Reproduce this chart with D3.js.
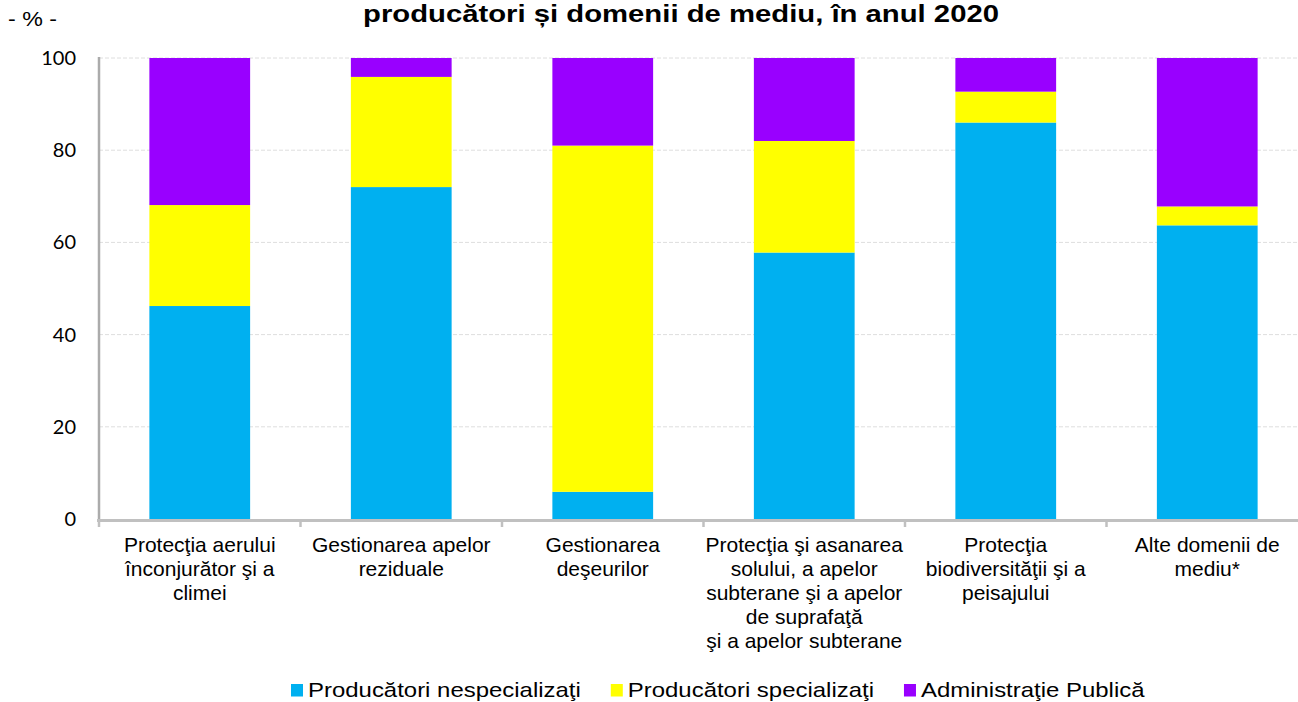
<!DOCTYPE html>
<html><head><meta charset="utf-8">
<script src="https://cdn.jsdelivr.net/npm/d3@7"></script>
<style>
html,body{margin:0;padding:0;background:#fff;}
svg{display:block;}
</style></head>
<body>
<svg id="chart" width="1298" height="702"></svg>
<script>
const categories = [
  ["Protecţia aerului", "înconjurător şi a", "climei"],
  ["Gestionarea apelor", "reziduale"],
  ["Gestionarea", "deşeurilor"],
  ["Protecţia şi asanarea", "solului, a apelor", "subterane şi a apelor", "de suprafaţă", "şi a apelor subterane"],
  ["Protecţia", "biodiversităţii şi a", "peisajului"],
  ["Alte domenii de", "mediu*"]
];
const seriesNames = ["Producători nespecializaţi", "Producători specializaţi", "Administraţie Publică"];
const nespecializati = [46.2, 72.0, 5.9, 57.8, 86.0, 63.7];
const specializati   = [21.9, 23.9, 75.1, 24.2, 6.7, 4.1];
const administratie  = [31.9, 4.1, 19.0, 18.0, 7.3, 32.2];
const yTicks = [0, 20, 40, 60, 80, 100];
const titleText = "producători și domenii de mediu, în anul 2020";
const unitText = "- % -";
const colors = ["#00B0F0", "#FFFF00", "#9900FF"];

(function () {
const svg = d3.select("#chart");
const pLeft = 99, pRight = 1308, pTop = 58, pBottom = 519;

const x = d3.scaleBand().domain(d3.range(categories.length)).range([pLeft, pRight])
  .paddingInner(0.5).paddingOuter(0.25);
const y = d3.scaleLinear().domain([0, 100]).range([pBottom, pTop]);

// gridlines
svg.append("g").selectAll("line").data(yTicks.filter(d => d > 0)).join("line")
  .attr("x1", pLeft).attr("x2", 1298)
  .attr("y1", d => y(d)).attr("y2", d => y(d))
  .attr("stroke", "#dedede").attr("stroke-width", 1).attr("stroke-dasharray", "4,2");

// stacked data
const rows = categories.map((c, i) => ({i, a: nespecializati[i], b: specializati[i], c: administratie[i]}));
const stacked = d3.stack().keys(["a", "b", "c"])(rows);

svg.append("g").selectAll("g").data(stacked).join("g")
  .attr("fill", (d, k) => colors[k])
  .selectAll("rect").data(d => d).join("rect")
  .attr("x", d => x(d.data.i))
  .attr("width", x.bandwidth())
  .attr("y", d => y(d[1]))
  .attr("height", d => y(d[0]) - y(d[1]));

// y axis line
svg.append("line").attr("x1", pLeft).attr("x2", pLeft).attr("y1", pTop - 1).attr("y2", pBottom + 3)
  .attr("stroke", "#ababab").attr("stroke-width", 2.5);

// x axis line
svg.append("line").attr("x1", pLeft - 2).attr("x2", 1298).attr("y1", pBottom + 1.5).attr("y2", pBottom + 1.5)
  .attr("stroke", "#c0c0c0").attr("stroke-width", 3);

// x tick marks at band boundaries
const bounds = d3.range(categories.length + 1).map(i => pLeft + i * x.step());
svg.append("g").selectAll("line").data(bounds).join("line")
  .attr("x1", d => d).attr("x2", d => d)
  .attr("y1", pBottom + 1).attr("y2", pBottom + 8)
  .attr("stroke", "#c0c0c0").attr("stroke-width", 2.5);

// y tick labels
svg.append("g").selectAll("text").data(yTicks).join("text")
  .attr("x", 76).attr("y", d => y(d))
  .attr("dy", "0.35em")
  .attr("text-anchor", "end")
  .attr("font-family", "Lato, 'Open Sans', sans-serif")
  .attr("font-size", 20)
  .attr("fill", "#000")
  .text(d => d);

// x category labels
const xl = svg.append("g").selectAll("text").data(categories).join("text")
  .attr("text-anchor", "middle")
  .attr("font-family", "'Liberation Sans', Arial, sans-serif")
  .attr("font-size", 21)
  .attr("fill", "#000");
xl.selectAll("tspan").data((d, i) => d.map(line => ({line, i}))).join("tspan")
  .attr("x", d => x(d.i) + x.bandwidth() / 2)
  .attr("y", (d, j) => 552 + j * 24)
  .text(d => d.line);

// title
svg.append("text")
  .attr("x", 363).attr("y", 22)
  .attr("font-family", "'Liberation Sans', Arial, sans-serif")
  .attr("font-weight", "bold")
  .attr("font-size", 24.5)
  .attr("fill", "#000")
  .attr("textLength", 636).attr("lengthAdjust", "spacingAndGlyphs")
  .text(titleText);

// unit
svg.append("text")
  .attr("x", 8).attr("y", 26)
  .attr("font-family", "'Liberation Sans', Arial, sans-serif")
  .attr("font-size", 20)
  .attr("fill", "#000")
  .attr("textLength", 49).attr("lengthAdjust", "spacingAndGlyphs")
  .text(unitText);

// legend
const lg = svg.append("g");
let lx = 291;
seriesNames.forEach((name, k) => {
  lg.append("rect").attr("x", lx).attr("y", 684).attr("width", 12).attr("height", 12.5)
    .attr("fill", colors[k]);
  const t = lg.append("text").attr("x", lx + 17).attr("y", 696.5)
    .attr("font-family", "'Liberation Sans', Arial, sans-serif")
    .attr("font-size", 21)
    .attr("fill", "#000")
    .text(name);
  const w = t.node().getComputedTextLength() * 1.14;
  t.attr("textLength", w).attr("lengthAdjust", "spacingAndGlyphs");
  lx = lx + 17 + w + 30;
});
})();
</script>
</body></html>
